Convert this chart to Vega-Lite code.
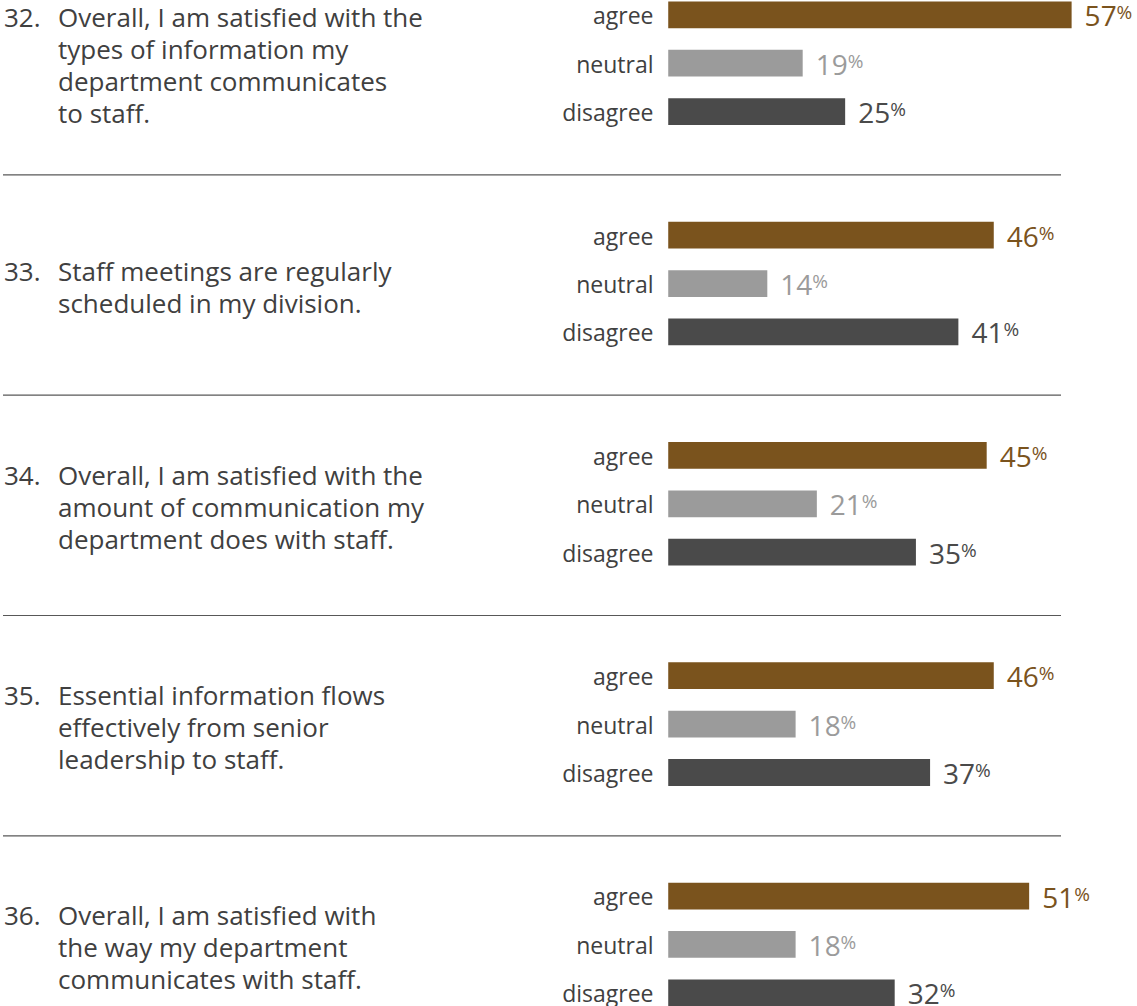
{
  "$schema": "https://vega.github.io/schema/vega-lite/v6.json",
  "width": 1058,
  "height": 1006,
  "autosize": {"type": "none"},
  "padding": {"left": 3, "top": 0, "right": 76, "bottom": 0},
  "background": "white",
  "config": {"view": {"stroke": null}, "font": "Open Sans"},
  "datasets": {
    "bars": [
      {"q": "32", "response": "agree", "pct": 57},
      {"q": "32", "response": "neutral", "pct": 19},
      {"q": "32", "response": "disagree", "pct": 25},
      {"q": "33", "response": "agree", "pct": 46},
      {"q": "33", "response": "neutral", "pct": 14},
      {"q": "33", "response": "disagree", "pct": 41},
      {"q": "34", "response": "agree", "pct": 45},
      {"q": "34", "response": "neutral", "pct": 21},
      {"q": "34", "response": "disagree", "pct": 35},
      {"q": "35", "response": "agree", "pct": 46},
      {"q": "35", "response": "neutral", "pct": 18},
      {"q": "35", "response": "disagree", "pct": 37},
      {"q": "36", "response": "agree", "pct": 51},
      {"q": "36", "response": "neutral", "pct": 18},
      {"q": "36", "response": "disagree", "pct": 32}
    ],
    "questions": [
      {"q": "32", "num": "32.", "lines": 4, "text": "Overall, I am satisfied with the\ntypes of information my\ndepartment communicates\nto staff."},
      {"q": "33", "num": "33.", "lines": 2, "text": "Staff meetings are regularly\nscheduled in my division."},
      {"q": "34", "num": "34.", "lines": 3, "text": "Overall, I am satisfied with the\namount of communication my\ndepartment does with staff."},
      {"q": "35", "num": "35.", "lines": 3, "text": "Essential information flows\neffectively from senior\nleadership to staff."},
      {"q": "36", "num": "36.", "lines": 3, "text": "Overall, I am satisfied with\nthe way my department\ncommunicates with staff."}
    ]
  },
  "resolve": {"scale": {"yOffset": "independent"}},
  "layer": [
    {
      "layer": [
        {
          "data": {"name": "questions"},
          "transform": [{"filter": "datum.q != '36'"}],
          "mark": {"type": "rule", "color": "#585858", "strokeWidth": 1.2},
          "encoding": {
            "y": {"field": "q", "type": "nominal", "bandPosition": 0.794,
                  "scale": {"range": [0, 1101.5], "paddingInner": 0, "paddingOuter": 0}, "axis": null}
          }
        },
        {
          "data": {"name": "bars"},
          "mark": {"type": "bar"},
          "encoding": {
            "x": {"field": "pct", "type": "quantitative",
                  "scale": {"domain": [-94, 55.5], "nice": false, "zero": false}, "axis": null},
            "y": {"field": "q", "type": "nominal", "axis": null},
            "yOffset": {"field": "response", "type": "nominal", "sort": ["agree", "neutral", "disagree"],
                        "scale": {"paddingInner": 0.447, "paddingOuter": 1.004, "align": 0.015}},
            "color": {"field": "response", "type": "nominal",
                      "scale": {"domain": ["agree", "neutral", "disagree"], "range": ["#7a531d", "#9b9b9b", "#4a4a4a"]},
                      "legend": null}
          }
        },
        {
          "data": {"name": "bars"},
          "mark": {"type": "text", "align": "right", "baseline": "alphabetic", "dx": -14.7, "dy": 9.4, "fontSize": 23, "color": "#404040"},
          "encoding": {
            "x": {"datum": 0, "type": "quantitative"},
            "y": {"field": "q", "type": "nominal"},
            "yOffset": {"field": "response", "type": "nominal", "sort": ["agree", "neutral", "disagree"]},
            "text": {"field": "response"}
          }
        },
        {
          "data": {"name": "bars"},
          "mark": {"type": "text", "align": "left", "baseline": "alphabetic", "dx": 13, "dy": 11.5, "fontSize": 28},
          "encoding": {
            "x": {"field": "pct", "type": "quantitative"},
            "y": {"field": "q", "type": "nominal"},
            "yOffset": {"field": "response", "type": "nominal", "sort": ["agree", "neutral", "disagree"]},
            "color": {"field": "response", "type": "nominal", "legend": null},
            "text": {"field": "pct"}
          }
        },
        {
          "data": {"name": "bars"},
          "mark": {"type": "text", "align": "left", "baseline": "alphabetic", "dx": 45, "dy": 4.5, "fontSize": 19},
          "encoding": {
            "x": {"field": "pct", "type": "quantitative"},
            "y": {"field": "q", "type": "nominal"},
            "yOffset": {"field": "response", "type": "nominal", "sort": ["agree", "neutral", "disagree"]},
            "color": {"field": "response", "type": "nominal", "legend": null},
            "text": {"value": "%"}
          }
        }
      ]
    },
    {
      "data": {"name": "questions"},
      "layer": [
        {
          "mark": {"type": "text", "align": "left", "baseline": "middle", "dx": 1, "fontSize": 26, "color": "#404040"},
          "encoding": {
            "x": {"datum": -94, "type": "quantitative"},
            "y": {"field": "q", "type": "nominal"},
            "yOffset": {"field": "lines", "type": "quantitative", "scale": {"domain": [2, 4], "range": [53, 19]}},
            "text": {"field": "num"}
          }
        },
        {
          "mark": {"type": "text", "align": "left", "baseline": "middle", "dx": 55, "fontSize": 26, "lineHeight": 32, "lineBreak": "\n", "color": "#404040"},
          "encoding": {
            "x": {"datum": -94, "type": "quantitative"},
            "y": {"field": "q", "type": "nominal"},
            "yOffset": {"field": "lines", "type": "quantitative"},
            "text": {"field": "text"}
          }
        }
      ]
    }
  ]
}
